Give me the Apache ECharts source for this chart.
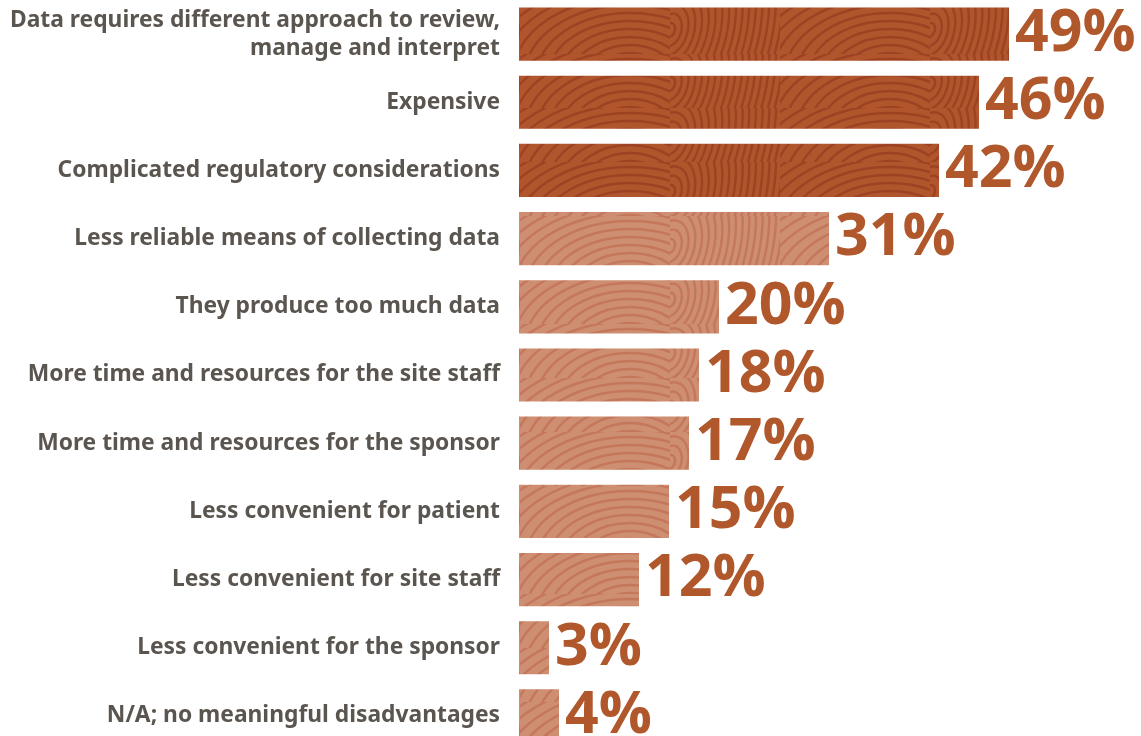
<!DOCTYPE html>
<html>
<head>
<meta charset="utf-8">
<script src="https://cdn.jsdelivr.net/npm/echarts@6/dist/echarts.min.js"></script>
<style>
  html, body { margin: 0; padding: 0; background: #fff; }
  #chart { width: 1141px; height: 736px; }
</style>
</head>
<body>
<div id="chart"></div>
<script>
const categories = [
  'Data requires different approach to review,\nmanage and interpret',
  'Expensive',
  'Complicated regulatory considerations',
  'Less reliable means of collecting data',
  'They produce too much data',
  'More time and resources for the site staff',
  'More time and resources for the sponsor',
  'Less convenient for patient',
  'Less convenient for site staff',
  'Less convenient for the sponsor',
  'N/A; no meaningful disadvantages'
]
const values = [49, 46, 42, 31, 20, 18, 17, 15, 12, 3, 4]
const topCount = 3

// wood grain texture for the bars
const makeGrain = (base, line) => {
  const c = document.createElement('canvas')
  c.width = 260
  c.height = 54
  const ctx = c.getContext('2d')
  ctx.fillStyle = base
  ctx.fillRect(0, 0, c.width, c.height)
  ctx.strokeStyle = line
  ctx.lineWidth = 2.4
  ctx.lineCap = 'round'
  // one set of rings per tile, centre off the bar so the arcs read as grain
  ctx.save()
  ctx.beginPath()
  ctx.rect(0, 0, 150, 54)
  ctx.clip()
  for (let r = 6; r < 220; r += 8) {
    ctx.beginPath()
    ctx.ellipse(110, 75, r * 1.5, r, 0, 0, Math.PI * 2)
    ctx.stroke()
  }
  ctx.restore()
  ctx.save()
  ctx.beginPath()
  ctx.rect(150, 0, 110, 54)
  ctx.clip()
  for (let r = 6; r < 220; r += 8) {
    ctx.beginPath()
    ctx.ellipse(150, 30, r * 0.8, r * 1.2, 0.3, 0, Math.PI * 2)
    ctx.stroke()
  }
  ctx.restore()
  return c
}
const darkGrain = makeGrain('#b1552d', '#9d4323')
const lightGrain = makeGrain('#cd8e71', '#c4775a')

const chart = echarts.init(document.getElementById('chart'))
chart.setOption({
  animation: false,
  grid: { left: 519, top: 0, height: 750, width: 600, outerBoundsMode: 'none' },
  xAxis: {
    type: 'value', min: 0, max: 60,
    show: false
  },
  yAxis: {
    type: 'category',
    data: categories,
    inverse: true,
    axisLine: { show: false },
    axisTick: { show: false },
    axisLabel: {
      margin: 19,
      color: '#5b5550',
      fontFamily: 'Noto Sans',
      fontWeight: 'bold',
      fontSize: 22.8,
      lineHeight: 28,
      align: 'right'
    }
  },
  series: [{
    type: 'bar',
    barWidth: '78%',
    data: values.map((v, i) => ({
      value: v,
      itemStyle: {
        color: { image: i < topCount ? darkGrain : lightGrain, repeat: 'repeat' }
      }
    })),
    label: {
      show: true,
      position: 'right',
      distance: 6,
      formatter: '{c}%',
      color: '#b0582b',
      fontFamily: 'Open Sans',
      fontWeight: 'bold',
      fontSize: 59
    }
  }]
})
</script>
</body>
</html>
